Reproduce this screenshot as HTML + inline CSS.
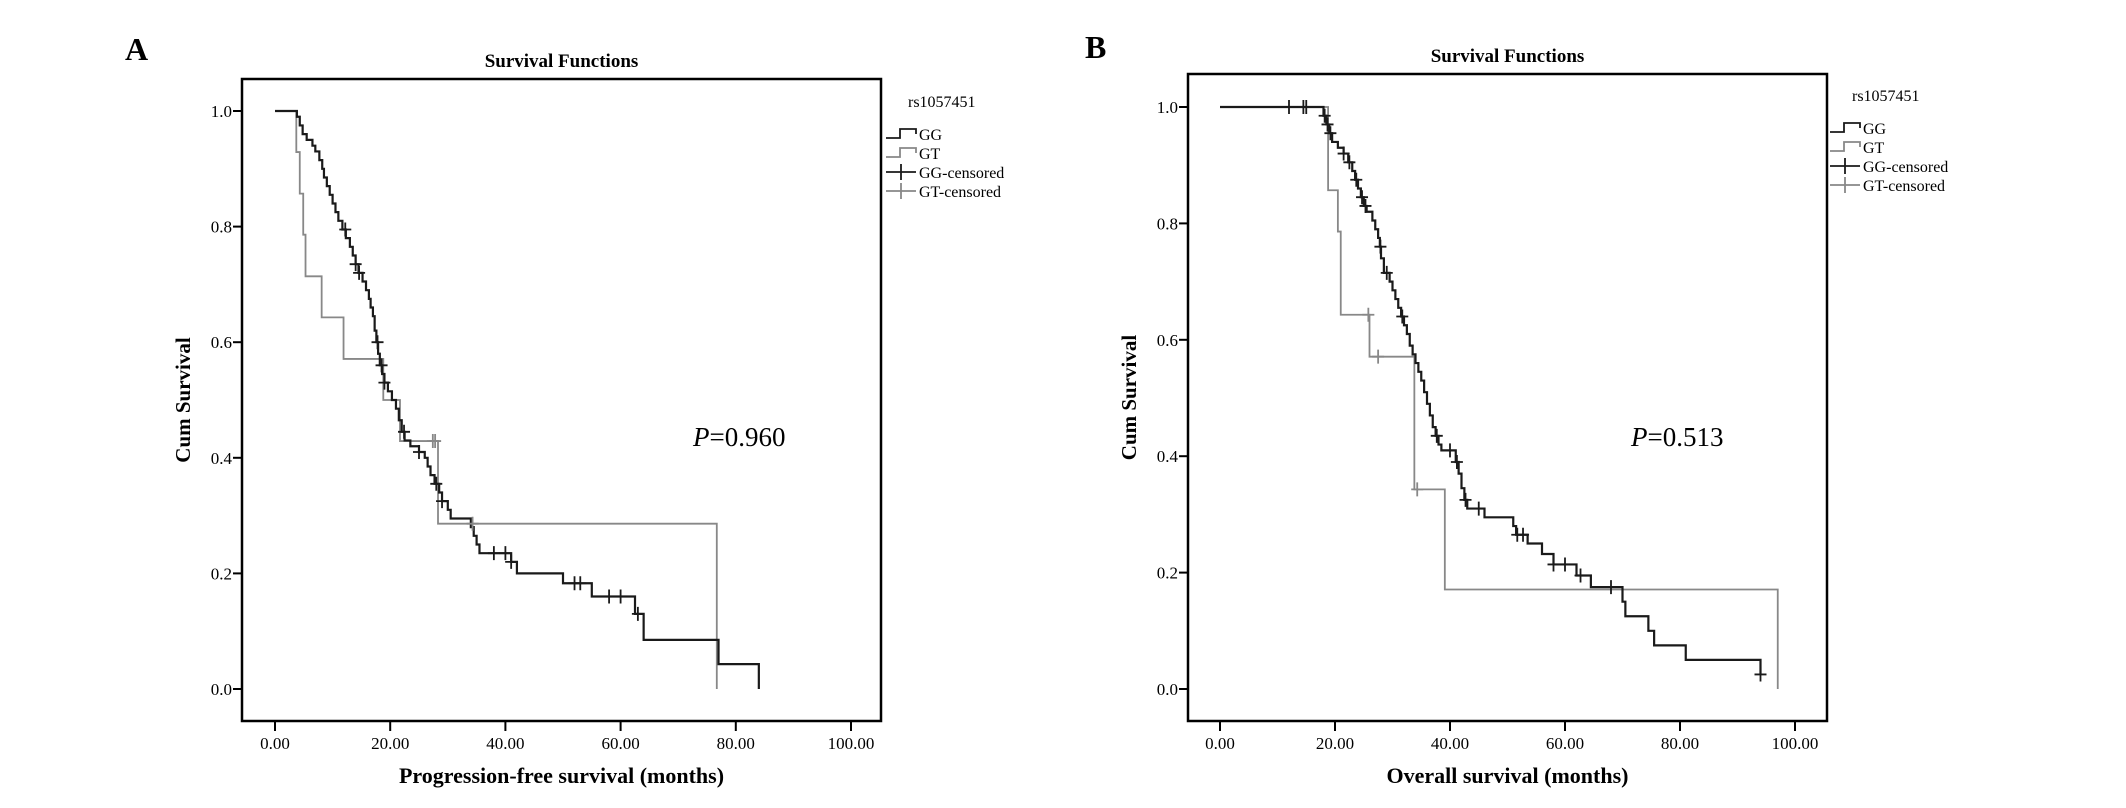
<!DOCTYPE html>
<html><head><meta charset="utf-8">
<style>
html,body{margin:0;padding:0;background:#fff;}
svg{display:block;font-family:"Liberation Serif",serif;}
</style></head>
<body>
<svg id="chart" width="2126" height="808" viewBox="0 0 2126 808"></svg>
<script>
// ---- Panel A data (progression-free survival) ----
const aGGTimes = [0,3.8,4.3,4.8,5.5,6.5,7,7.7,8.2,8.5,9,9.5,10,10.5,11,11.7,12.3,13,13.5,14,14.5,15.2,15.8,16.3,16.6,17,17.3,17.6,17.9,18.2,18.6,19,19.6,20.3,21,21.5,22,22.5,23.5,25,26,26.5,27,27.7,28.5,29,30,30.5,34,34.5,35,35.5,41,42,50,55,62.5,64,77,84];
const aGGSurv  = [1,0.99,0.975,0.96,0.95,0.94,0.93,0.915,0.9,0.885,0.87,0.855,0.84,0.825,0.81,0.795,0.78,0.765,0.75,0.735,0.72,0.705,0.69,0.675,0.66,0.645,0.62,0.6,0.58,0.56,0.545,0.53,0.515,0.5,0.485,0.465,0.445,0.43,0.42,0.41,0.4,0.385,0.37,0.355,0.34,0.325,0.31,0.295,0.28,0.265,0.25,0.235,0.22,0.2,0.183,0.16,0.13,0.085,0.043,0];
const aGGCensor = [12.2,14,14.6,17.8,18.5,19,22.4,25,28,29,38,40,41,52,53,58,60,63];
const aGTTimes = [0,3.7,4.3,4.9,5.3,8.1,11.9,18.8,21.7,28.3,76.7];
const aGTSurv  = [1,0.929,0.857,0.786,0.714,0.643,0.571,0.5,0.429,0.286,0];
const aGTCensor = [27.4,27.8,34.3];
// ---- Panel B data (overall survival) ----
const bGGTimes = [0,18,18.5,19,19.5,20.5,21.5,22.3,23,23.5,24,24.5,25,25.5,26.5,27,27.5,27.8,28,28.5,29.5,30,30.5,31,31.5,32,32.5,33,33.5,34,34.5,35,35.5,36,36.5,37,37.5,38,38.5,41,41.5,42,42.5,43,46,51,51.5,53.5,56,58,62,64.5,70,70.5,74.5,75.5,81,94];
const bGGSurv  = [1,0.985,0.97,0.955,0.94,0.93,0.92,0.905,0.89,0.875,0.86,0.845,0.83,0.82,0.805,0.79,0.775,0.76,0.74,0.715,0.7,0.685,0.67,0.655,0.64,0.625,0.61,0.59,0.575,0.56,0.545,0.53,0.51,0.49,0.47,0.45,0.435,0.42,0.41,0.39,0.37,0.345,0.325,0.31,0.295,0.28,0.265,0.25,0.232,0.214,0.195,0.175,0.15,0.125,0.1,0.075,0.05,0.025];
const bGGCensor = [12,14.5,15,18.2,18.7,19.2,21.5,22.5,23.7,24.7,25.3,27.9,29,31.7,37.7,40,41.2,42.7,45,51.7,52.7,58,60,62.7,68,94];
const bGTTimes = [0,18.8,20.5,21,26,33.8,39.1,97];
const bGTSurv  = [1,0.857,0.786,0.643,0.571,0.343,0.171,0];
const bGTCensor = [25.8,27.5,34.3];
const xTicks = [0,20,40,60,80,100];
const xTickLabels = ["0.00","20.00","40.00","60.00","80.00","100.00"];
const yTicks = [0,0.2,0.4,0.6,0.8,1.0];
const yTickLabels = ["0.0","0.2","0.4","0.6","0.8","1.0"];

const NS="http://www.w3.org/2000/svg";
const svg=document.getElementById('chart');
function el(tag,attrs,parent,text){const e=document.createElementNS(NS,tag);for(const k in attrs)e.setAttribute(k,attrs[k]);if(text!==undefined)e.textContent=text;(parent||svg).appendChild(e);return e;}

function panel(cfg){
  const g=el('g',{});
  
  
  const X=v=>cfg.x0+(cfg.x100-cfg.x0)*v/100;
  const Y=v=>cfg.y0+(cfg.y1-cfg.y0)*v;
  const fr=el('rect',{x:cfg.fl,y:cfg.ft,width:cfg.fr-cfg.fl,height:cfg.fb-cfg.ft,fill:'none',stroke:'#000','stroke-width':2.5},g);
  
  
  const lt=el('text',{x:cfg.letterX,y:cfg.letterY,'font-size':32,'font-weight':'bold'},g,cfg.letter);
  
  
  const tt=el('text',{x:(cfg.fl+cfg.fr)/2,y:cfg.ft-12,'font-size':19,'font-weight':'bold','text-anchor':'middle'},g,'Survival Functions');
  
  
  yTicks.forEach((t,i)=>{
    el('line',{x1:cfg.fl-9,x2:cfg.fl,y1:Y(t),y2:Y(t),stroke:'#000','stroke-width':2},g);
    const l=el('text',{x:cfg.fl-10,y:Y(t)+6,'font-size':17,'text-anchor':'end'},g,yTickLabels[i]);
    
    
  });
  xTicks.forEach((t,i)=>{
    el('line',{x1:X(t),x2:X(t),y1:cfg.fb,y2:cfg.fb+10,stroke:'#000','stroke-width':2},g);
    const l=el('text',{x:X(t),y:cfg.fb+28,'font-size':17,'text-anchor':'middle'},g,xTickLabels[i]);
    
    
  });
  const yt=el('text',{transform:`translate(${cfg.fl-52},${(cfg.ft+cfg.fb)/2}) rotate(-90)`,'font-size':21,'font-weight':'bold','text-anchor':'middle'},g,'Cum Survival');
  
  
  const xt=el('text',{x:(cfg.fl+cfg.fr)/2,y:cfg.fb+62,'font-size':22,'font-weight':'bold','text-anchor':'middle'},g,cfg.xTitle);
  
  
  function step(times,surv){let d=`M${X(times[0])},${Y(surv[0])}`;for(let i=1;i<times.length;i++){d+=` H${X(times[i])} V${Y(surv[i])}`;}return d;}
  function survAt(times,surv,t){let v=surv[0];for(let i=0;i<times.length;i++){if(times[i]<=t)v=surv[i];}return v;}
  const gt=el('path',{d:step(cfg.gtT,cfg.gtS),fill:'none',stroke:'#888','stroke-width':1.8},g);
  
  
  const gg=el('path',{d:step(cfg.ggT,cfg.ggS),fill:'none',stroke:'#1a1a1a','stroke-width':2.2},g);
  
  
  cfg.gtC.forEach(t=>{const x=X(t),y=Y(survAt(cfg.gtT,cfg.gtS,t));
    const c=el('path',{d:`M${x-6},${y}H${x+6}M${x},${y-7}V${y+7}`,stroke:'#888','stroke-width':1.8},g);
    
    });
  cfg.ggC.forEach(t=>{const x=X(t),y=Y(survAt(cfg.ggT,cfg.ggS,t));
    const c=el('path',{d:`M${x-6},${y}H${x+6}M${x},${y-7}V${y+7}`,stroke:'#1a1a1a','stroke-width':1.8},g);
    
    });
  const p=el('text',{x:cfg.pX,y:cfg.pY,'font-size':27},g);
  
  
  el('tspan',{'font-style':'italic'},p,'P');
  el('tspan',{},p,'='+cfg.pVal);
  // legend
  const lg=el('g',{},g);
  
  
  const lx=cfg.legX, ly=cfg.legY;
  el('text',{x:lx+22,y:ly,'font-size':16},lg,'rs1057451');
  const items=[['GG','#1a1a1a','step'],['GT','#888','step'],['GG-censored','#1a1a1a','plus'],['GT-censored','#888','plus']];
  items.forEach((it,i)=>{const yy=ly+27+i*19;
    const e=el('g',{},lg);
    
    
    if(it[2]==='step') el('path',{d:`M${lx},${yy+4}H${lx+14}V${yy-5}H${lx+30}V${yy}`,fill:'none',stroke:it[1],'stroke-width':1.8},e);
    else el('path',{d:`M${lx},${yy}H${lx+30}M${lx+15},${yy-8}V${yy+8}`,stroke:it[1],'stroke-width':1.8},e);
    el('text',{x:lx+33,y:yy+6,'font-size':16},e,it[0]);
  });
}
panel({id:'a',letter:'A',letterX:125,letterY:60,fl:242,fr:881,ft:79,fb:721,x0:275,x100:851,y0:689,y1:111,
  xTitle:'Progression-free survival (months)',ggT:aGGTimes,ggS:aGGSurv,ggC:aGGCensor,gtT:aGTTimes,gtS:aGTSurv,gtC:aGTCensor,
  pX:693,pY:446,pVal:'0.960',legX:886,legY:107});
panel({id:'b',letter:'B',letterX:1085,letterY:58,fl:1188,fr:1827,ft:74,fb:721,x0:1220,x100:1795,y0:689,y1:107,
  xTitle:'Overall survival (months)',ggT:bGGTimes,ggS:bGGSurv,ggC:bGGCensor,gtT:bGTTimes,gtS:bGTSurv,gtC:bGTCensor,
  pX:1631,pY:446,pVal:'0.513',legX:1830,legY:101});
</script>
</body></html>
